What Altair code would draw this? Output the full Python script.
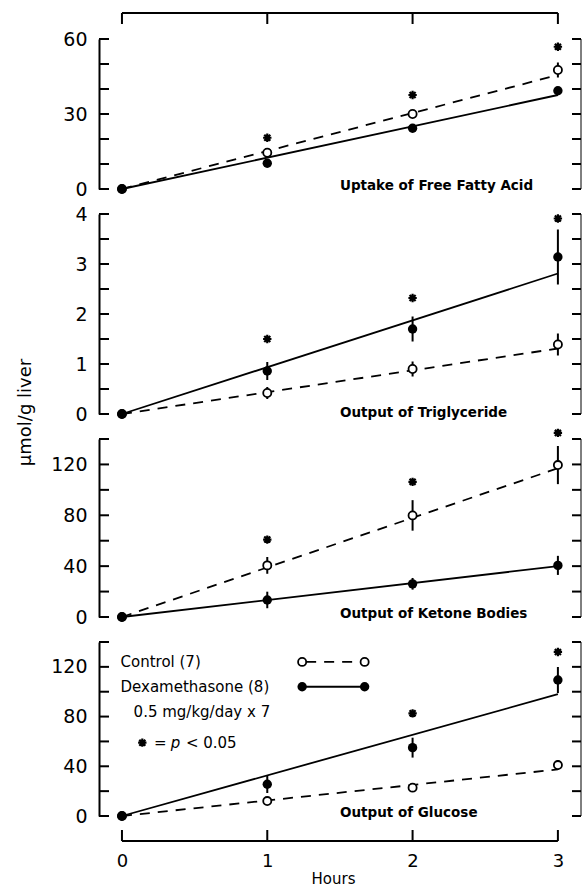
import altair as alt
import pandas as pd

FONT = "DejaVu Sans"

hours = [0, 1, 2, 3]
fit_hours = [0, 3]

# Uptake of free fatty acid (umol/g liver)
ffa_control = [0, 14.5, 30.0, 47.6]
ffa_control_sem = [0, 1.0, 1.2, 3.0]
ffa_dexa = [0, 10.3, 24.3, 39.3]
ffa_dexa_sem = [0, 1.0, 1.0, 1.5]
ffa_star_hours = [1, 2, 3]
ffa_star = [20.5, 37.6, 56.9]
ffa_fit_control = [0, 45.6]
ffa_fit_dexa = [0, 37.6]

# Output of triglyceride
tg_control = [0, 0.42, 0.90, 1.39]
tg_control_sem = [0, 0.12, 0.15, 0.22]
tg_dexa = [0, 0.86, 1.70, 3.14]
tg_dexa_sem = [0, 0.18, 0.25, 0.55]
tg_star_hours = [1, 2, 3]
tg_star = [1.50, 2.32, 3.91]
tg_fit_control = [0, 1.31]
tg_fit_dexa = [0, 2.81]

# Output of ketone bodies
ket_control = [0, 40.6, 79.9, 119.5]
ket_control_sem = [0, 6.6, 12.0, 15.0]
ket_dexa = [0, 13.4, 26.1, 40.6]
ket_dexa_sem = [0, 6.5, 4.6, 7.5]
ket_star_hours = [1, 2, 3]
ket_star = [60.9, 106.3, 144.8]
ket_fit_control = [0, 117.0]
ket_fit_dexa = [0, 40.0]

# Output of glucose
glu_control = [0, 12.0, 22.8, 41.0]
glu_control_sem = [0, 2.5, 2.5, 4.0]
glu_dexa = [0, 25.5, 55.0, 109.4]
glu_dexa_sem = [0, 7.0, 8.0, 10.5]
glu_star_hours = [2, 3]
glu_star = [82.6, 132.0]
glu_fit_control = [0, 37.5]
glu_fit_dexa = [0, 98.0]

# Key drawn inside the glucose panel (hours, umol/g)
key_labels = ["Control (7)", "Dexamethasone (8)", "0.5 mg/kg/day x 7"]
key_label_x = [-0.01, -0.01, 0.08]
key_label_y = [124, 104, 84]
key_sample_x = [1.24, 1.67]
key_control_y = 124
key_dexa_y = 104
key_star_x = 0.14
key_star_y = 59
key_sig_parts = ["=", "p", "< 0.05"]
key_sig_x = [0.22, 0.335, 0.44]
key_sig_style = ["normal", "italic", "normal"]

W = 482
X_DOMAIN = [-0.158, 3.159]
ASTERISK = "M0,-1L0,1M-1,0L1,0M-0.72,-0.72L0.72,0.72M-0.72,0.72L0.72,-0.72"

panels = [
    dict(caption="Uptake of Free Fatty Acid", height=150, ymax=60, step=10,
         labels=[0, 30, 60], control=ffa_control, control_sem=ffa_control_sem,
         dexa=ffa_dexa, dexa_sem=ffa_dexa_sem, star_h=ffa_star_hours, star=ffa_star,
         fit_c=ffa_fit_control, fit_d=ffa_fit_dexa, cap_y=1.2),
    dict(caption="Output of Triglyceride", height=200, ymax=4, step=0.5,
         labels=[0, 1, 2, 3, 4], control=tg_control, control_sem=tg_control_sem,
         dexa=tg_dexa, dexa_sem=tg_dexa_sem, star_h=tg_star_hours, star=tg_star,
         fit_c=tg_fit_control, fit_d=tg_fit_dexa, cap_y=0.02),
    dict(caption="Output of Ketone Bodies", height=178, ymax=140, step=20,
         labels=[0, 40, 80, 120], control=ket_control, control_sem=ket_control_sem,
         dexa=ket_dexa, dexa_sem=ket_dexa_sem, star_h=ket_star_hours, star=ket_star,
         fit_c=ket_fit_control, fit_d=ket_fit_dexa, cap_y=2.4),
    dict(caption="Output of Glucose", height=174, ymax=140, step=20,
         labels=[0, 40, 80, 120], control=glu_control, control_sem=glu_control_sem,
         dexa=glu_dexa, dexa_sem=glu_dexa_sem, star_h=glu_star_hours, star=glu_star,
         fit_c=glu_fit_control, fit_d=glu_fit_dexa, cap_y=2.4),
]


def make_panel(p, index):
    H = p["height"]
    first = index == 0
    last = index == len(panels) - 1

    xscale = alt.Scale(domain=X_DOMAIN, nice=False, zero=False)
    yscale = alt.Scale(domain=[0, p["ymax"]], nice=False, zero=False)

    yaxis_kw = dict(values=p["labels"], domain=True, domainColor="black",
                    domainWidth=2, ticks=False, tickSize=0, labelPadding=12,
                    labelFont=FONT, labelFontSize=19, labelColor="black",
                    grid=False, title=None)
    if index == 1:
        yaxis_kw.update(title="\u03bcmol/g liver", titleFont=FONT, titleFontSize=18,
                        titleFontWeight="normal", titleColor="black",
                        titleAngle=270, titleAlign="center", titleBaseline="middle",
                        titleX=-74, titleY=198)
    yaxis = alt.Axis(**yaxis_kw)

    if last:
        xaxis = alt.Axis(values=hours, domain=False, ticks=False, tickSize=0,
                         labelPadding=36, labelFont=FONT, labelFontSize=18,
                         labelColor="black", grid=False, title="Hours",
                         titleFont=FONT, titleFontSize=15, titleFontWeight="normal",
                         titleColor="black", titlePadding=1, titleX=234)
    else:
        xaxis = None

    def X(field):
        return alt.X(field, type="quantitative", scale=xscale, axis=xaxis)

    def Y(field):
        return alt.Y(field, type="quantitative", scale=yscale, axis=yaxis)

    layers = []

    # regression lines
    fit = pd.DataFrame({"hour": fit_hours, "control": p["fit_c"], "dexa": p["fit_d"]})
    layers.append(alt.Chart(fit).mark_line(color="black", strokeWidth=1.8,
                                           strokeDash=[10, 8])
                  .encode(x=X("hour"), y=Y("control")))
    layers.append(alt.Chart(fit).mark_line(color="black", strokeWidth=1.8)
                  .encode(x=X("hour"), y=Y("dexa")))

    # means with SEM bars
    pts = pd.DataFrame({
        "hour": hours,
        "control": p["control"],
        "c_lo": [v - e for v, e in zip(p["control"], p["control_sem"])],
        "c_hi": [v + e for v, e in zip(p["control"], p["control_sem"])],
        "dexa": p["dexa"],
        "d_lo": [v - e for v, e in zip(p["dexa"], p["dexa_sem"])],
        "d_hi": [v + e for v, e in zip(p["dexa"], p["dexa_sem"])],
    })
    layers.append(alt.Chart(pts).mark_rule(color="black", strokeWidth=2)
                  .encode(x=X("hour"), y=Y("c_lo"), y2=alt.Y2("c_hi")))
    layers.append(alt.Chart(pts).mark_rule(color="black", strokeWidth=2)
                  .encode(x=X("hour"), y=Y("d_lo"), y2=alt.Y2("d_hi")))
    layers.append(alt.Chart(pts).mark_point(shape="circle", filled=True, fill="white",
                                            stroke="black", strokeWidth=1.8, size=66,
                                            opacity=1)
                  .encode(x=X("hour"), y=Y("control")))
    layers.append(alt.Chart(pts).mark_point(shape="circle", filled=True, color="black",
                                            size=88, opacity=1)
                  .encode(x=X("hour"), y=Y("dexa")))

    # significance marks
    stars = pd.DataFrame({"hour": p["star_h"], "value": p["star"]})
    layers.append(alt.Chart(stars).mark_point(shape=ASTERISK, filled=False, color="black",
                                              strokeWidth=2.2, size=70, opacity=1)
                  .encode(x=X("hour"), y=Y("value")))

    # inward ticks on both vertical axes
    n = int(round(p["ymax"] / p["step"]))
    ticks = pd.DataFrame({"value": [p["step"] * i for i in range(n + 1)]})
    layers.append(alt.Chart(ticks).mark_rule(color="black", strokeWidth=2)
                  .encode(y=Y("value"), x=alt.value(0), x2=alt.value(10)))
    layers.append(alt.Chart(ticks).mark_rule(color="black", strokeWidth=2)
                  .encode(y=Y("value"), x=alt.value(W - 9), x2=alt.value(W)))
    layers.append(alt.Chart(pd.DataFrame({"lo": [0], "hi": [p["ymax"]]}))
                  .mark_rule(color="black", strokeWidth=1)
                  .encode(x=alt.value(W), y=Y("lo"), y2=alt.Y2("hi")))

    # panel caption
    cap = pd.DataFrame({"hour": [1.5], "value": [p["cap_y"]], "text": [p["caption"]]})
    layers.append(alt.Chart(cap).mark_text(align="left", baseline="middle", font=FONT,
                                           fontSize=13.5, fontWeight="bold", color="black")
                  .encode(x=X("hour"), y=Y("value"), text="text:N"))

    hour_ticks = pd.DataFrame({"hour": hours})
    hour_span = pd.DataFrame({"a": [hours[0]], "b": [hours[-1]]})
    if first:
        layers.append(alt.Chart(hour_span).mark_rule(color="black", strokeWidth=2)
                      .encode(x=X("a"), x2=alt.X2("b"), y=alt.value(-26)))
        layers.append(alt.Chart(hour_ticks).mark_rule(color="black", strokeWidth=2)
                      .encode(x=X("hour"), y=alt.value(-26), y2=alt.value(-15)))
    if last:
        layers.append(alt.Chart(hour_span).mark_rule(color="black", strokeWidth=2)
                      .encode(x=X("a"), x2=alt.X2("b"), y=alt.value(H + 25)))
        layers.append(alt.Chart(hour_ticks).mark_rule(color="black", strokeWidth=2)
                      .encode(x=X("hour"), y=alt.value(H + 14), y2=alt.value(H + 25)))

        # key
        kl = pd.DataFrame({"hour": key_label_x, "value": key_label_y, "text": key_labels})
        layers.append(alt.Chart(kl).mark_text(align="left", baseline="middle", font=FONT,
                                              fontSize=15, color="black")
                      .encode(x=X("hour"), y=Y("value"), text="text:N"))
        ks = pd.DataFrame({"hour": key_sample_x,
                           "control": [key_control_y] * 2,
                           "dexa": [key_dexa_y] * 2})
        layers.append(alt.Chart(ks).mark_line(color="black", strokeWidth=1.8,
                                              strokeDash=[10, 8], strokeDashOffset=-4)
                      .encode(x=X("hour"), y=Y("control")))
        layers.append(alt.Chart(ks).mark_line(color="black", strokeWidth=1.8)
                      .encode(x=X("hour"), y=Y("dexa")))
        layers.append(alt.Chart(ks).mark_point(shape="circle", filled=True, fill="white",
                                               stroke="black", strokeWidth=1.8, size=66,
                                               opacity=1)
                      .encode(x=X("hour"), y=Y("control")))
        layers.append(alt.Chart(ks).mark_point(shape="circle", filled=True, color="black",
                                               size=88, opacity=1)
                      .encode(x=X("hour"), y=Y("dexa")))
        kstar = pd.DataFrame({"hour": [key_star_x], "value": [key_star_y]})
        layers.append(alt.Chart(kstar).mark_point(shape=ASTERISK, filled=False,
                                                  color="black", strokeWidth=2.2,
                                                  size=70, opacity=1)
                      .encode(x=X("hour"), y=Y("value")))
        ksig = pd.DataFrame({"hour": key_sig_x, "value": [key_star_y] * 3,
                             "text": key_sig_parts, "style": key_sig_style})
        for style in ["normal", "italic"]:
            layers.append(alt.Chart(ksig).transform_filter(alt.datum.style == style)
                          .mark_text(align="left", baseline="middle", font=FONT,
                                     fontSize=15, fontStyle=style, color="black")
                          .encode(x=X("hour"), y=Y("value"), text="text:N"))

    return alt.layer(*layers).properties(width=W, height=H)


chart = (
    alt.vconcat(*[make_panel(p, i) for i, p in enumerate(panels)], spacing=25,
                bounds="flush")
    .resolve_scale(y="independent")
    .properties(padding={"left": 16, "top": 12, "right": 0, "bottom": 0},
                background="white")
    .configure_view(strokeWidth=0)
    .configure_axis(grid=False)
)

chart.save("out.html", embed_options={"renderer": "svg", "actions": False})
